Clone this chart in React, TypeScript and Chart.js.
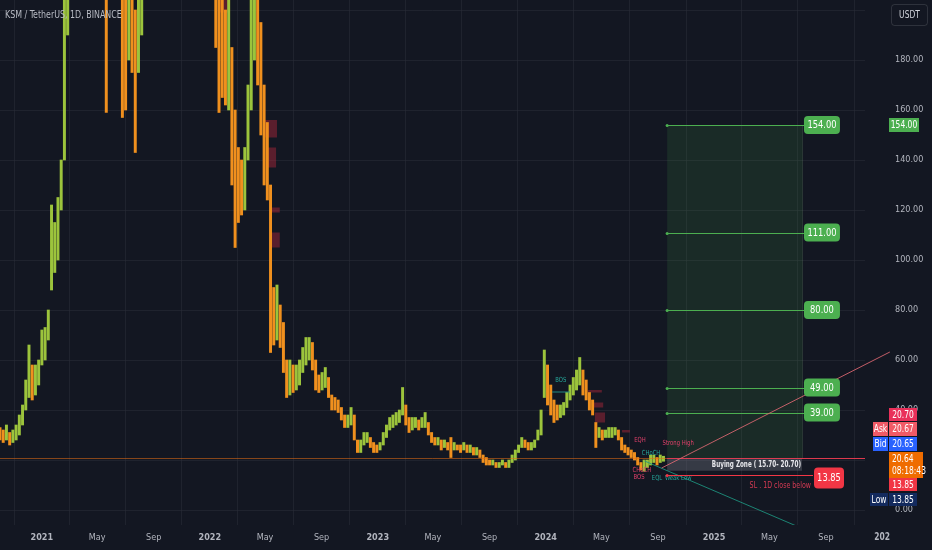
import React, { useEffect, useRef } from "react";
import { Chart, registerables } from "chart.js";

Chart.register(...registerables);

// ---------- data ----------
const startDay = -91; // first weekly bar, days from 2021-01-01
const weekDays = 7;
const weeklyLow = [
  28, 27, 28, 26, 27, 28, 30, 34, 40, 45, 44, 46, 50, 58, 60, 68, 88, 95, 100, 120,
  140, 190, 220, 250, 280, 290, 310, 340, 380, 360, 300, 330, 420, 159, 210, 220, 215, 205, 157, 160,
  180, 175, 143, 175, 190, 220, 260, 300, 330, 350, 340, 300, 300, 310, 320, 330, 350, 380, 400, 370,
  320, 260, 240, 220, 230, 240, 220, 185, 159, 165, 162, 160, 130, 105, 115, 118, 120, 140, 160, 180,
  170, 150, 130, 124, 63, 66, 68, 65, 55, 45, 46, 47, 48, 50, 55, 58, 60, 56, 48, 47,
  48, 49, 45, 40, 40, 39, 36, 33, 33, 34, 28, 23, 23, 26, 27, 25, 23, 23, 24, 26,
  29, 32, 33, 34, 35, 38, 34, 31, 32, 33, 32, 33, 33, 30, 27, 26, 26, 24, 25, 24,
  21, 24, 24, 23, 24, 23, 23, 22, 22, 21, 19, 18, 18, 18, 17, 17, 18, 17, 17, 19,
  20, 23, 25, 25, 24, 24, 25, 28, 30, 45, 42, 38, 35, 36, 37, 38, 41, 44, 46, 48,
  50, 46, 44, 40, 38, 25, 29, 28, 29, 29, 29, 30, 28, 24, 23, 22, 21, 20, 18, 16,
  15.5, 17, 18, 19, 18, 19, 19.5,
];
const weeklyHigh = [
  33, 32, 34, 31, 32, 34, 38, 42, 52, 66, 58, 58, 60, 72, 73, 80, 122, 115, 125, 140,
  210, 260, 290, 330, 360, 380, 410, 430, 470, 460, 420, 450, 600, 450, 350, 330, 320, 300, 240, 215,
  230, 215, 200, 205, 260, 300, 350, 420, 430, 460, 440, 400, 380, 370, 380, 400, 430, 480, 500, 460,
  420, 360, 320, 300, 320, 320, 290, 260, 240, 215, 200, 210, 185, 160, 145, 140, 145, 170, 215, 240,
  215, 195, 170, 155, 130, 89, 90, 82, 75, 60, 60, 58, 58, 60, 65, 69, 69, 67, 60, 54,
  55, 57, 53, 46, 45, 44, 41, 38, 38, 41, 38, 28, 28, 31, 31, 29, 27, 26, 27, 31,
  34, 37, 38, 39, 40, 49, 42, 37, 37, 37, 36, 37, 39, 35, 31, 29, 29, 28, 28, 27,
  29, 27, 26, 26, 27, 26, 26, 25, 25, 24, 22, 21, 20, 20, 19, 19, 20, 19, 20, 22,
  24, 26, 29, 28, 27, 27, 28, 32, 40, 64, 58, 50, 44, 42, 42, 43, 47, 50, 53, 56,
  61, 56, 52, 47, 44, 35, 33, 32, 32, 33, 33, 33, 32, 29, 26, 25, 24, 23, 21, 19,
  20, 20, 22, 22, 21, 22, 21.5,
];

const xTickDays = [0, 120, 243, 365, 485, 608, 730, 850, 973, 1095, 1216, 1339, 1461, 1581, 1704];
const xTickLabels = ["2021", "May", "Sep", "2022", "May", "Sep", "2023", "May", "Sep", "2024", "May", "Sep", "2025", "May", "Sep"];
const hiddenTick = { day: 1826, label: "202" };
const yTicks = [0, 20, 40, 60, 80, 100, 120, 140, 160, 180, 200];

const title = "KSM / TetherUS, 1D, BINANCE";
const currency = "USDT";
const targets = [154, 111, 80, 49, 39];
const lastPrice = 20.64;
const countdown = "08:18:43";
const askPrice = 20.67;
const bidPrice = 20.65;
const zoneHigh = 20.7;
const zoneLow = 15.7;
const stopLoss = 13.85;
const lowPrice = 13.85;
const positionDays = [1359, 1652];
const slEndDay = 1676;
const riseLine = [[1347, 16.8], [1843, 63.2]];
const fallLine = [[1310, 19.6], [1645, -6.8]];
const orderBlocks = [
  [387, 409, 199, 210],
  [485, 511, 149, 156],
  [489, 509, 137, 145],
  [496, 517, 119, 121],
  [496, 517, 105, 111],
  [1187, 1217, 47, 48],
  [1198, 1220, 41, 43],
  [1202, 1224, 35, 39],
  [1261, 1278, 31, 32],
];
const smcLabels: [number, number, string, string][] = [
  [1128, 52, "BOS", "#26a69a"],
  [1298, 13.2, "BOS", "#e0406a"],
  [1300, 28, "EQH", "#e0406a"],
  [1383, 26.8, "Strong High", "#e0406a"],
  [1324, 22.6, "CHoCH", "#26a69a"],
  [1304, 16, "CHoCH", "#e0406a"],
  [1337, 12.8, "EQL", "#26a69a"],
  [1383, 12.8, "Weak Low", "#26a69a"],
];
const bosLine = [1109, 1148, 47.2];

// ---------- style ----------
const BG = "#131722";
const GRID = "rgba(42,46,57,0.55)";
const TXT = "#b2b5be";
const FONT = "'Liberation Sans Narrow', 'DejaVu Sans Condensed', Roboto, sans-serif";
const UP = "#9cc43c";
const DOWN = "#f0901e";

function roundRect(ctx: CanvasRenderingContext2D, x: number, y: number, w: number, h: number, r: number) {
  ctx.beginPath();
  ctx.moveTo(x + r, y);
  ctx.lineTo(x + w - r, y);
  ctx.quadraticCurveTo(x + w, y, x + w, y + r);
  ctx.lineTo(x + w, y + h - r);
  ctx.quadraticCurveTo(x + w, y + h, x + w - r, y + h);
  ctx.lineTo(x + r, y + h);
  ctx.quadraticCurveTo(x, y + h, x, y + h - r);
  ctx.lineTo(x, y + r);
  ctx.quadraticCurveTo(x, y, x + r, y);
  ctx.closePath();
}

function text(ctx: CanvasRenderingContext2D, s: string, x: number, y: number, font: string, color: string, align: CanvasTextAlign = "center", squeeze = 0.84) {
  ctx.save();
  ctx.translate(x, y);
  ctx.scale(squeeze, 1);
  ctx.font = font;
  ctx.fillStyle = color;
  ctx.textAlign = align;
  ctx.textBaseline = "middle";
  ctx.fillText(s, 0, 0);
  ctx.restore();
}

function box(ctx: CanvasRenderingContext2D, x: number, y: number, w: number, h: number, color: string, s: string, r = 0, size = 10) {
  ctx.fillStyle = color;
  if (r > 0) {
    roundRect(ctx, x, y, w, h, r);
    ctx.fill();
  } else ctx.fillRect(x, y, w, h);
  text(ctx, s, x + w / 2, y + h / 2 + 0.5, `${size}px ${FONT}`, "#ffffff");
}

const bgPlugin = {
  id: "bg",
  beforeDraw(chart: any) {
    const c = chart.ctx;
    c.save();
    c.fillStyle = BG;
    c.fillRect(0, 0, chart.width, chart.height);
    c.restore();
  },
};

const annoPlugin = {
  id: "anno",
  beforeDatasetsDraw(chart: any) {
    const { ctx, chartArea: ca, scales } = chart;
    const xs = scales.x, ys = scales.y;
    ctx.save();
    ctx.beginPath();
    ctx.rect(ca.left, ca.top, ca.right - ca.left, ca.bottom - ca.top);
    ctx.clip();
    const px0 = xs.getPixelForValue(positionDays[0]);
    const px1 = xs.getPixelForValue(positionDays[1]);
    const pyTop = ys.getPixelForValue(targets[0]);
    const pyEntry = ys.getPixelForValue(lastPrice);
    ctx.fillStyle = "rgba(76,175,80,0.13)";
    ctx.fillRect(px0, pyTop, px1 - px0, pyEntry - pyTop);
    ctx.strokeStyle = "rgba(120,160,120,0.25)";
    ctx.lineWidth = 1;
    ctx.beginPath();
    ctx.moveTo(px1 + 0.5, pyTop);
    ctx.lineTo(px1 + 0.5, pyEntry);
    ctx.stroke();
    for (const [d0, d1, lo, hi] of orderBlocks) {
      const a = xs.getPixelForValue(d0), b = xs.getPixelForValue(d1);
      const t = ys.getPixelForValue(hi), u = ys.getPixelForValue(lo);
      ctx.fillStyle = "rgba(178,40,60,0.45)";
      ctx.fillRect(a, t, b - a, Math.max(2, u - t));
    }
    ctx.restore();
  },
  afterDatasetsDraw(chart: any) {
    const { ctx, chartArea: ca, scales } = chart;
    const xs = scales.x, ys = scales.y;
    const X = (d: number) => xs.getPixelForValue(d);
    const Y = (v: number) => ys.getPixelForValue(v);
    ctx.save();
    ctx.beginPath();
    ctx.rect(ca.left, ca.top, ca.right - ca.left, ca.bottom - ca.top);
    ctx.clip();
    ctx.lineWidth = 1;
    // last price line
    ctx.strokeStyle = "rgba(230,110,20,0.55)";
    ctx.beginPath();
    ctx.moveTo(ca.left, Math.round(Y(lastPrice)) + 0.5);
    ctx.lineTo(ca.right, Math.round(Y(lastPrice)) + 0.5);
    ctx.stroke();
    const px0 = X(positionDays[0]);
    const px1 = X(positionDays[1]);
    // buying zone
    ctx.fillStyle = "rgba(120,123,134,0.35)";
    ctx.fillRect(px0, Y(zoneHigh), px1 - px0, Y(zoneLow) - Y(zoneHigh));
    ctx.strokeStyle = "rgba(242,54,90,0.8)";
    ctx.beginPath();
    ctx.moveTo(px0, Math.round(Y(zoneHigh)) + 0.5);
    ctx.lineTo(ca.right, Math.round(Y(zoneHigh)) + 0.5);
    ctx.stroke();
    // fall line
    ctx.strokeStyle = "rgba(30,150,130,0.85)";
    ctx.beginPath();
    ctx.moveTo(X(fallLine[0][0]), Y(fallLine[0][1]));
    ctx.lineTo(X(fallLine[1][0]), Y(fallLine[1][1]));
    ctx.stroke();
    // BOS line
    ctx.strokeStyle = "rgba(38,166,154,0.8)";
    ctx.beginPath();
    ctx.moveTo(X(bosLine[0]), Y(bosLine[2]));
    ctx.lineTo(X(bosLine[1]), Y(bosLine[2]));
    ctx.stroke();
    // SMC labels
    for (const [d, v, t, c] of smcLabels) {
      text(ctx, t, X(d), Y(v), `7px ${FONT}`, c);
    }
    // target lines
    ctx.strokeStyle = "#4caf50";
    ctx.fillStyle = "#4caf50";
    for (const t of targets) {
      const yy = Math.round(Y(t)) + 0.5;
      ctx.beginPath();
      ctx.moveTo(px0, yy);
      ctx.lineTo(px1 + 3, yy);
      ctx.stroke();
      ctx.beginPath();
      ctx.arc(px0, yy, 1.5, 0, Math.PI * 2);
      ctx.fill();
    }
    // SL line
    const slY = Math.round(Y(stopLoss)) + 0.5;
    ctx.strokeStyle = "#f23645";
    ctx.fillStyle = "#f23645";
    ctx.beginPath();
    ctx.moveTo(px0, slY);
    ctx.lineTo(X(slEndDay), slY);
    ctx.stroke();
    ctx.beginPath();
    ctx.arc(px0, slY, 1.5, 0, Math.PI * 2);
    ctx.fill();
    ctx.restore();

    // rise line (extends over the price scale)
    ctx.save();
    ctx.strokeStyle = "rgba(225,105,115,0.85)";
    ctx.lineWidth = 1;
    ctx.beginPath();
    ctx.moveTo(X(riseLine[0][0]), Y(riseLine[0][1]));
    ctx.lineTo(X(riseLine[1][0]), Y(riseLine[1][1]));
    ctx.stroke();

    // target label boxes
    for (const t of targets) {
      box(ctx, px1 + 2, Y(t) - 9, 36, 18, "#4caf50", t.toFixed(2), 4, 11);
    }
    // SL label
    box(ctx, X(slEndDay) + 1, Y(stopLoss) - 8, 30, 21, "#f23645", stopLoss.toFixed(2), 4, 11);
    text(ctx, "SL . 1D close below", X(slEndDay) - 2, Y(stopLoss) + 10, `9px ${FONT}`, "rgba(242,64,90,0.85)", "right", 0.78);
    text(ctx, `Buying Zone ( ${zoneLow.toFixed(2)}- ${zoneHigh.toFixed(2)})`, px1 - 1, (Y(zoneHigh) + Y(zoneLow)) / 2 + 0.5, `bold 8.5px ${FONT}`, "#e8e8ec", "right", 0.74);
    text(ctx, title, 5, 15, `11px ${FONT}`, "#b8bbc4", "left", 0.8);
    ctx.restore();
  },
  afterDraw(chart: any) {
    const { ctx, scales } = chart;
    const xs = scales.x, ys = scales.y;
    ctx.save();
    text(ctx, hiddenTick.label, xs.getPixelForValue(hiddenTick.day), 537, `bold 10px ${FONT}`, TXT);
    // currency box
    ctx.fillStyle = BG;
    roundRect(ctx, 891.5, 4.5, 36, 21, 3);
    ctx.fill();
    ctx.strokeStyle = "rgba(255,255,255,0.12)";
    ctx.lineWidth = 1;
    ctx.stroke();
    text(ctx, currency, 909.5, 15.5, `10px ${FONT}`, "#d1d4dc");
    // axis price labels
    box(ctx, 889, ys.getPixelForValue(targets[0]) - 7, 30, 14, "#4caf50", targets[0].toFixed(2));
    box(ctx, 889, 408, 28, 13, "#e9305a", zoneHigh.toFixed(2));
    box(ctx, 873, 422, 15, 14, "#f15a66", "Ask");
    box(ctx, 889, 422, 28, 14, "#f15a66", askPrice.toFixed(2));
    box(ctx, 873, 437, 15, 14, "#2962ff", "Bid");
    box(ctx, 889, 437, 28, 14, "#2962ff", bidPrice.toFixed(2));
    ctx.fillStyle = "#ef6c00";
    ctx.fillRect(889, 452, 34, 26);
    text(ctx, lastPrice.toFixed(2), 892, 459, `10px ${FONT}`, "#ffffff", "left");
    text(ctx, countdown, 892, 471, `10px ${FONT}`, "#ffffff", "left");
    box(ctx, 889, 478, 28, 13, "#f23645", stopLoss.toFixed(2));
    box(ctx, 870, 493, 18, 13, "#132a5e", "Low");
    box(ctx, 889, 493, 28, 13, "#132a5e", lowPrice.toFixed(2));
    ctx.restore();
  },
};

export default function App() {
  const ref = useRef<HTMLCanvasElement | null>(null);
  useEffect(() => {
    if (!ref.current) return;
    const bars = weeklyLow.map((lo, i) => ({ x: startDay + weekDays * i, y: [lo, weeklyHigh[i]] }));
    const colors = weeklyLow.map((lo, i) => {
      if (i === 0) return DOWN;
      const m = lo + weeklyHigh[i];
      const p = weeklyLow[i - 1] + weeklyHigh[i - 1];
      return m >= p ? UP : DOWN;
    });
    const chart = new Chart(ref.current, {
      type: "bar",
      data: {
        datasets: [
          {
            data: bars as any,
            backgroundColor: colors,
            borderWidth: 0,
            barThickness: 2.3,
            borderSkipped: false,
          } as any,
        ],
      },
      options: {
        responsive: false,
        animation: false,
        layout: { padding: 0, autoPadding: false },
        plugins: { legend: { display: false }, tooltip: { enabled: false } },
        scales: {
          x: {
            type: "linear",
            min: -91,
            max: 1789,
            offset: false,
            afterBuildTicks: (s: any) => {
              s.ticks = xTickDays.map((v) => ({ value: v }));
            },
            afterFit: (s: any) => {
              s.height = 25;
              s.paddingLeft = 0;
              s.paddingRight = 0;
            },
            grid: { color: GRID, drawTicks: false },
            border: { display: false },
            ticks: {
              padding: 7,
              color: TXT,
              maxRotation: 0,
              autoSkip: false,
              font: (c: any) => ({
                family: FONT,
                size: 9,
                weight: c.tick && /^\d/.test(xTickLabels[xTickDays.indexOf(c.tick.value)] || "") ? "bold" : "normal",
              }),
              callback: (v: any) => xTickLabels[xTickDays.indexOf(Number(v))] ?? "",
            },
          },
          y: {
            position: "right",
            min: -6,
            max: 204,
            afterBuildTicks: (s: any) => {
              s.ticks = yTicks.map((v) => ({ value: v }));
            },
            afterFit: (s: any) => {
              s.width = 67;
              s.paddingTop = 0;
              s.paddingBottom = 0;
            },
            grid: { color: GRID, drawTicks: true, tickLength: 30, tickColor: "rgba(0,0,0,0)" },
            border: { display: false },
            ticks: {
              padding: 0,
              color: TXT,
              font: { family: FONT, size: 9 },
              callback: (v: any) => Number(v).toFixed(2),
            },
          },
        },
      },
      plugins: [bgPlugin, annoPlugin],
    });
    return () => chart.destroy();
  }, []);
  return (
    <div style={{ position: "fixed", left: 0, top: 0, width: 932, height: 550, background: BG }}>
      <canvas ref={ref} width={932} height={550} style={{ width: 932, height: 550, display: "block" }} />
    </div>
  );
}
